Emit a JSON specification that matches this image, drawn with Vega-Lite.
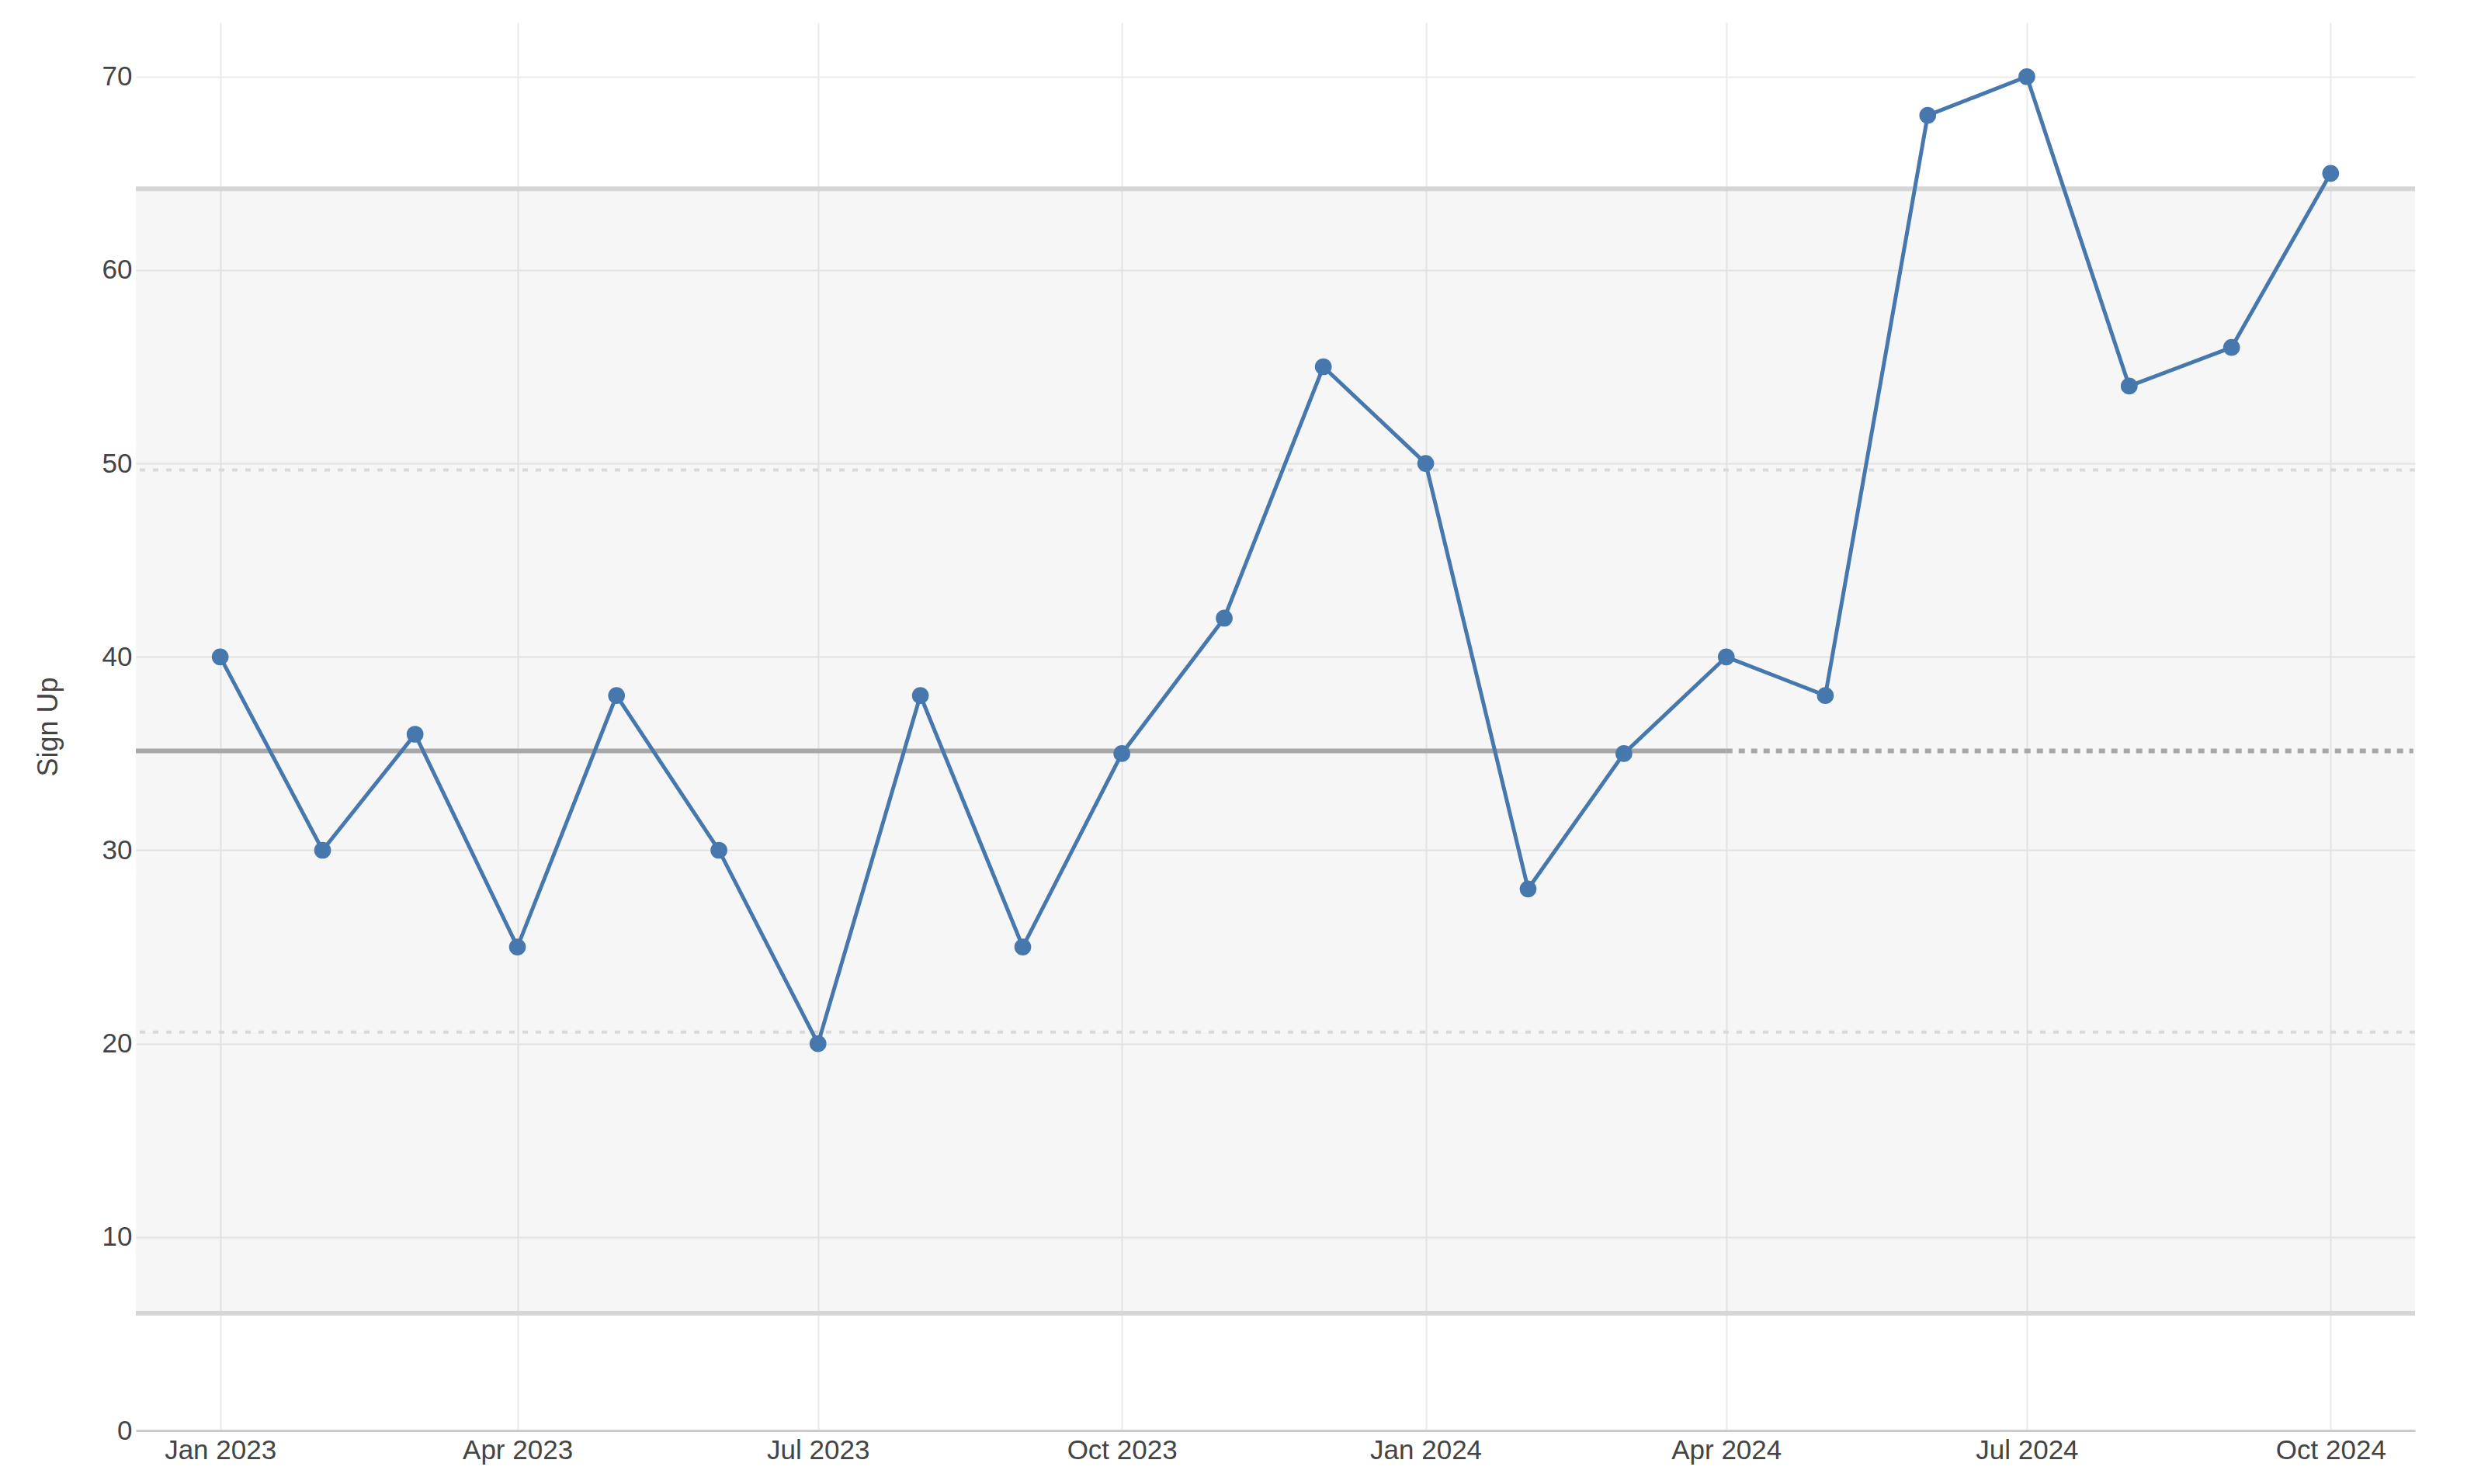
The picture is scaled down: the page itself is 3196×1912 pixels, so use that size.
{
  "$schema": "https://vega.github.io/schema/vega-lite/v6.json",
  "width": 2936,
  "height": 1814,
  "autosize": {"type": "none"},
  "padding": {"left": 175, "top": 29, "right": 85, "bottom": 69},
  "background": "#ffffff",
  "config": {
    "view": {"stroke": null},
    "font": "Liberation Sans",
    "axis": {
      "labelFont": "Liberation Sans",
      "titleFont": "Liberation Sans",
      "labelFontSize": 35,
      "titleFontSize": 36,
      "labelColor": "#444444",
      "titleColor": "#444444",
      "titleFontWeight": "normal",
      "gridColor": "#ebebeb",
      "gridWidth": 2,
      "ticks": false
    }
  },
  "datasets": {
    "signups": [
      {"date": "2023-01-01", "value": 40},
      {"date": "2023-02-01", "value": 30},
      {"date": "2023-03-01", "value": 36},
      {"date": "2023-04-01", "value": 25},
      {"date": "2023-05-01", "value": 38},
      {"date": "2023-06-01", "value": 30},
      {"date": "2023-07-01", "value": 20},
      {"date": "2023-08-01", "value": 38},
      {"date": "2023-09-01", "value": 25},
      {"date": "2023-10-01", "value": 35},
      {"date": "2023-11-01", "value": 42},
      {"date": "2023-12-01", "value": 55},
      {"date": "2024-01-01", "value": 50},
      {"date": "2024-02-01", "value": 28},
      {"date": "2024-03-01", "value": 35},
      {"date": "2024-04-01", "value": 40},
      {"date": "2024-05-01", "value": 38},
      {"date": "2024-06-01", "value": 68},
      {"date": "2024-07-01", "value": 70},
      {"date": "2024-08-01", "value": 54},
      {"date": "2024-09-01", "value": 56},
      {"date": "2024-10-01", "value": 65}
    ],
    "band": [{"lower": 6.063, "upper": 64.203}],
    "limits": [
      {"name": "UNPL", "value": 64.203},
      {"name": "LNPL", "value": 6.063}
    ],
    "zones": [
      {"name": "upper zone", "value": 49.668},
      {"name": "lower zone", "value": 20.598}
    ],
    "centre": [
      {"start": "2022-12-06T11:00:00Z", "end": "2024-04-01", "value": 35.133, "segment": "baseline"},
      {"start": "2024-04-01", "end": "2024-10-26T00:00:00Z", "value": 35.133, "segment": "projection"}
    ]
  },
  "layer": [
    {
      "data": {"name": "band"},
      "mark": {"type": "rect", "fill": "#000000", "fillOpacity": 0.037},
      "encoding": {
        "y": {"field": "lower", "type": "quantitative"},
        "y2": {"field": "upper"}
      }
    },
    {
      "data": {"name": "limits"},
      "mark": {"type": "rule", "stroke": "#d6d6d6", "strokeWidth": 6},
      "encoding": {
        "y": {"field": "value", "type": "quantitative"}
      }
    },
    {
      "data": {"name": "zones"},
      "mark": {"type": "rule", "stroke": "#d9d9d9", "strokeWidth": 4, "strokeDash": [7, 10], "strokeCap": "butt"},
      "encoding": {
        "y": {"field": "value", "type": "quantitative"}
      }
    },
    {
      "data": {"name": "centre"},
      "mark": {"type": "rule", "stroke": "#a8a8a8", "strokeWidth": 6, "strokeCap": "butt"},
      "encoding": {
        "x": {"field": "start", "type": "temporal"},
        "x2": {"field": "end"},
        "y": {"field": "value", "type": "quantitative"},
        "strokeDash": {
          "field": "segment",
          "type": "nominal",
          "scale": {"domain": ["baseline", "projection"], "range": [[1, 0], [8, 8]]},
          "legend": null
        }
      }
    },
    {
      "data": {"name": "signups"},
      "mark": {"type": "line", "stroke": "#4778ad", "strokeWidth": 5},
      "encoding": {
        "x": {"field": "date", "type": "temporal"},
        "y": {"field": "value", "type": "quantitative"}
      }
    },
    {
      "data": {"name": "signups"},
      "mark": {"type": "point", "shape": "circle", "filled": true, "fill": "#4778ad", "opacity": 1, "size": 470, "strokeWidth": 0},
      "encoding": {
        "x": {
          "field": "date",
          "type": "temporal",
          "scale": {
            "type": "utc",
            "domain": [
              {"year": 2022, "month": 12, "date": 6, "hours": 11, "utc": true},
              {"year": 2024, "month": 10, "date": 26, "hours": 13, "utc": true}
            ]
          },
          "axis": {
            "title": null,
            "format": "%b %Y",
            "tickCount": {"interval": "month", "step": 3},
            "labelPadding": 8,
            "domain": true,
            "domainColor": "#cccccc",
            "domainWidth": 3,
            "grid": true
          }
        },
        "y": {
          "field": "value",
          "type": "quantitative",
          "scale": {"domain": [0, 72.8], "nice": false},
          "axis": {
            "title": "Sign Up",
            "values": [0, 10, 20, 30, 40, 50, 60, 70],
            "domain": false,
            "labelPadding": 5,
            "titlePadding": 50,
            "grid": true
          }
        }
      }
    }
  ]
}
